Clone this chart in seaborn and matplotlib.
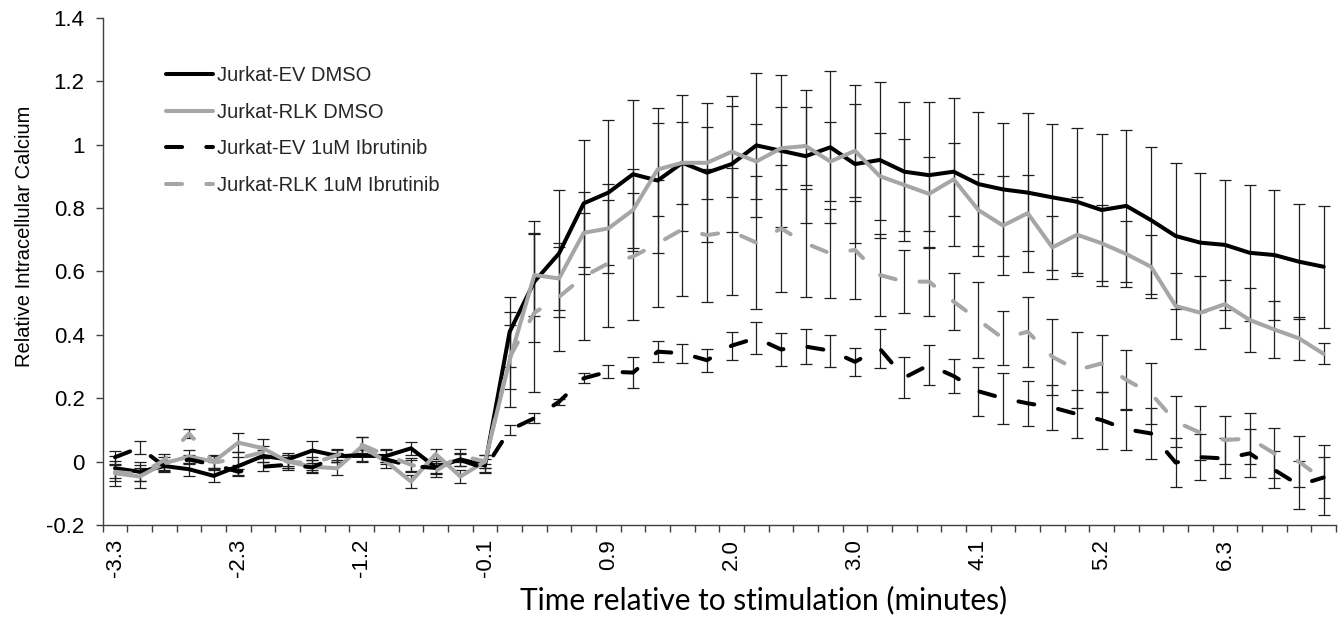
import numpy as np
import pandas as pd
import matplotlib
matplotlib.use("Agg")
import matplotlib.pyplot as plt
import seaborn as sns
from matplotlib.ticker import FixedLocator, FuncFormatter

# ---------------- data ----------------
tick_labels = ["-3.3", "-2.3", "-1.2", "-0.1", "0.9", "2.0", "3.0", "4.1", "5.2", "6.3"]
label_every = 5

series_names = ["Jurkat-EV DMSO", "Jurkat-RLK DMSO",
                "Jurkat-EV 1uM Ibrutinib", "Jurkat-RLK 1uM Ibrutinib"]

ev_dmso = [-0.021, -0.032, -0.014, -0.024, -0.045, -0.014, 0.018, 0.007, 0.035, 0.018,
           0.018, 0.018, 0.042, -0.018, 0.007, -0.012, 0.41, 0.568, 0.657, 0.815,
           0.849, 0.907, 0.887, 0.943, 0.912, 0.939, 0.998, 0.981, 0.964, 0.992,
           0.939, 0.952, 0.915, 0.904, 0.915, 0.876, 0.859, 0.849, 0.834, 0.82,
           0.794, 0.807, 0.762, 0.712, 0.691, 0.684, 0.659, 0.652, 0.631, 0.615]
ev_dmso_err = [0.04, 0.03, 0.02, 0.02, 0.02, 0.03, 0.02, 0.02, 0.03, 0.02,
               0.02, 0.02, 0.02, 0.02, 0.02, 0.02, 0.11, 0.19, 0.2, 0.2,
               0.23, 0.234, 0.23, 0.214, 0.22, 0.215, 0.227, 0.24, 0.21, 0.24,
               0.25, 0.245, 0.22, 0.23, 0.233, 0.228, 0.21, 0.25, 0.23, 0.234,
               0.24, 0.24, 0.232, 0.23, 0.22, 0.205, 0.214, 0.205, 0.182, 0.192]

rlk_dmso = [-0.037, -0.047, -0.005, 0.016, 0.0, 0.06, 0.042, 0.0, -0.016, -0.021,
            0.047, 0.0, -0.063, 0.024, -0.047, 0.0, 0.321, 0.589, 0.578, 0.722,
            0.736, 0.794, 0.922, 0.943, 0.943, 0.978, 0.947, 0.989, 0.996, 0.947,
            0.981, 0.901, 0.873, 0.845, 0.891, 0.794, 0.745, 0.784, 0.676, 0.716,
            0.689, 0.655, 0.615, 0.491, 0.47, 0.497, 0.447, 0.417, 0.389, 0.34]
rlk_dmso_err = [0.04, 0.037, 0.02, 0.02, 0.02, 0.03, 0.03, 0.02, 0.02, 0.02,
                0.03, 0.02, 0.02, 0.015, 0.02, 0.02, 0.15, 0.13, 0.1, 0.13,
                0.14, 0.13, 0.148, 0.13, 0.114, 0.144, 0.118, 0.13, 0.124, 0.126,
                0.147, 0.137, 0.145, 0.117, 0.115, 0.113, 0.155, 0.12, 0.1, 0.12,
                0.12, 0.105, 0.1, 0.105, 0.115, 0.075, 0.1, 0.09, 0.068, 0.033]

ev_ibr = [0.014, 0.044, -0.015, 0.007, -0.01, -0.032, -0.016, -0.01, -0.018, 0.016,
          0.021, 0.007, -0.014, -0.02, 0.005, -0.021, 0.1, 0.137, 0.189, 0.263,
          0.284, 0.281, 0.347, 0.342, 0.32, 0.366, 0.39, 0.354, 0.363, 0.35,
          0.315, 0.357, 0.265, 0.305, 0.27, 0.222, 0.2, 0.184, 0.171, 0.15,
          0.131, 0.102, 0.089, -0.003, 0.014, 0.01, 0.026, -0.026, -0.074, -0.05]
ev_ibr_err = [0.02, 0.02, 0.015, 0.015, 0.01, 0.01, 0.015, 0.015, 0.015, 0.01,
              0.02, 0.015, 0.02, 0.015, 0.02, 0.015, 0.015, 0.015, 0.01, 0.016,
              0.02, 0.048, 0.033, 0.03, 0.036, 0.044, 0.05, 0.053, 0.055, 0.05,
              0.045, 0.063, 0.065, 0.063, 0.055, 0.078, 0.08, 0.07, 0.072, 0.075,
              0.09, 0.065, 0.08, 0.078, 0.072, 0.063, 0.076, 0.058, 0.077, 0.066]

rlk_ibr = [-0.032, -0.04, 0.005, 0.089, -0.003, 0.01, 0.03, 0.0, -0.005, 0.02,
           0.053, 0.02, -0.01, -0.03, 0.02, 0.0, 0.33, 0.47, 0.52, 0.584,
           0.626, 0.647, 0.689, 0.733, 0.715, 0.726, 0.691, 0.736, 0.689, 0.657,
           0.668, 0.589, 0.568, 0.568, 0.505, 0.447, 0.389, 0.41, 0.331, 0.289,
           0.31, 0.258, 0.215, 0.126, 0.091, 0.068, 0.073, 0.026, 0.0, -0.058]
rlk_ibr_err = [0.02, 0.02, 0.02, 0.015, 0.02, 0.02, 0.02, 0.02, 0.02, 0.02,
               0.025, 0.02, 0.02, 0.02, 0.02, 0.02, 0.1, 0.25, 0.17, 0.2,
               0.2, 0.2, 0.2, 0.21, 0.21, 0.2, 0.21, 0.2, 0.17, 0.14,
               0.155, 0.13, 0.1, 0.11, 0.09, 0.12, 0.085, 0.11, 0.12, 0.12,
               0.09, 0.094, 0.095, 0.08, 0.085, 0.076, 0.079, 0.079, 0.08, 0.11]

y_ticks = [-0.2, 0.0, 0.2, 0.4, 0.6, 0.8, 1.0, 1.2, 1.4]

# ---------------- build tidy table ----------------
values = [ev_dmso, rlk_dmso, ev_ibr, rlk_ibr]
errors = [ev_dmso_err, rlk_dmso_err, ev_ibr_err, rlk_ibr_err]
n = len(ev_dmso)
frames = []
for name, v, e in zip(series_names, values, errors):
    frames.append(pd.DataFrame({"idx": np.arange(n), "value": v, "err": e, "series": name}))
df = pd.concat(frames, ignore_index=True)

# ---------------- style ----------------
sns.set_theme(style="white")
plt.rcParams["font.family"] = ["Liberation Sans", "DejaVu Sans"]
plt.rcParams["lines.solid_capstyle"] = "round"
plt.rcParams["lines.dash_capstyle"] = "round"
plt.rcParams["lines.solid_joinstyle"] = "round"
plt.rcParams["lines.dash_joinstyle"] = "round"

W, H = 1340, 623
fig = plt.figure(figsize=(W / 100, H / 100), dpi=100)
x0, x1, y_top, y_bot = 102.7, 1336, 18, 525
ax = fig.add_axes([x0 / W, 1 - y_bot / H, (x1 - x0) / W, (y_bot - y_top) / H])

palette = {series_names[0]: "#000000", series_names[1]: "#A6A6A6",
           series_names[2]: "#000000", series_names[3]: "#A6A6A6"}
dashes = {series_names[0]: "", series_names[1]: "",
          series_names[2]: (4, 6), series_names[3]: (4, 6)}

# error bars (under the lines)
for name in series_names:
    sub = df[df["series"] == name]
    ax.errorbar(sub["idx"], sub["value"], yerr=sub["err"], fmt="none",
                ecolor="#1f1f1f", elinewidth=0.9, capsize=4.5, capthick=0.9, zorder=1)

sns.lineplot(data=df, x="idx", y="value", hue="series", style="series",
             hue_order=series_names, style_order=series_names,
             palette=palette, dashes=dashes, linewidth=2.9, errorbar=None,
             sort=True, ax=ax, zorder=3)

# ---------------- axes ----------------
ax.set_xlim(-0.5, n - 0.5)
ax.set_ylim(-0.2, 1.4)
ax.set_yticks(y_ticks)
ax.yaxis.set_major_formatter(FuncFormatter(lambda v, p: f"{round(v, 1):g}"))
label_pos = list(range(0, n, label_every))[:len(tick_labels)]
ax.set_xticks(label_pos)
ax.set_xticklabels(tick_labels, rotation=90)
ax.xaxis.set_minor_locator(FixedLocator(np.arange(-0.5, n, 1.0)))
ax.tick_params(axis="x", which="major", length=0, pad=10, labelsize=16, colors="#000000")
ax.tick_params(axis="x", which="minor", length=5, width=1, color="#404040", direction="out", bottom=True)
ax.tick_params(axis="y", which="major", length=5, width=1, color="#404040", direction="out",
               left=True, pad=8, labelsize=16, labelcolor="#000000")
for s in ["top", "right"]:
    ax.spines[s].set_visible(False)
for s in ["left", "bottom"]:
    ax.spines[s].set_color("#404040")
    ax.spines[s].set_linewidth(1.0)
ax.grid(False)
ax.set_xlabel("")
ax.set_ylabel("")

fig.text(25 / W, 1 - 236 / H, "Relative Intracellular Calcium", rotation=90,
         ha="center", va="center", fontsize=14.5, color="#000000")
fig.text(764 / W, 1 - 600 / H, "Time relative to stimulation (minutes)",
         ha="center", va="center", fontsize=21.5, color="#000000",
         family=["Lato", "DejaVu Sans"])

# legend
handles, labels = ax.get_legend_handles_labels()
leg = ax.legend(handles, labels, loc="upper left",
                bbox_to_anchor=(166 / W, 1 - 66 / H), bbox_transform=fig.transFigure,
                frameon=False, fontsize=14.5, handlelength=2.35, handletextpad=0.2,
                labelspacing=0.88, borderpad=0, borderaxespad=0)
for line in leg.get_lines():
    line.set_linewidth(2.9)

fig.savefig("out.png", dpi=100)
